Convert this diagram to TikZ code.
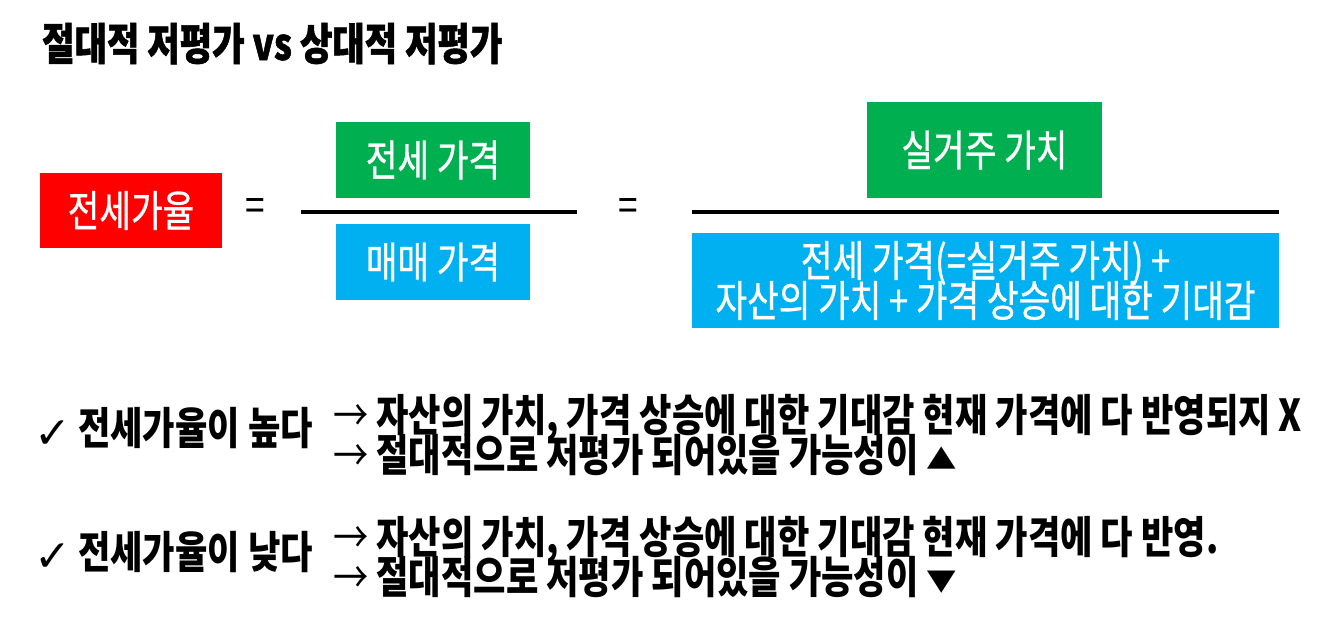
\documentclass[tikz,border=0pt]{standalone}
\usepackage{fontspec}
\setmainfont{Noto Sans CJK KR}[FakeStretch=0.8]
\newfontfamily\boxfont{Noto Sans CJK KR}[FakeStretch=0.8, FakeBold=0.8]
\newfontfamily\titlefont{Noto Sans CJK KR}[FakeStretch=0.8, BoldFeatures={FakeBold=1.2}]
\newfontfamily\symfont{DejaVu Sans}
\usetikzlibrary{positioning}

\definecolor{ratiored}{HTML}{FF0000}
\definecolor{numgreen}{HTML}{00B050}
\definecolor{denblue}{HTML}{00B0F0}

\newcommand{\goes}{{\mdseries →}}
\newcommand{\triup}{{\fontsize{38}{38}\selectfont\raisebox{2pt}{\scalebox{1}[0.72]{▲}}}}
\newcommand{\tridown}{{\fontsize{38}{38}\selectfont\raisebox{2pt}{\scalebox{1}[0.72]{▼}}}}
\newcommand{\tightlines}{\lineskiplimit=-40pt\relax}

\begin{document}
\begin{tikzpicture}[x=1pt, y=-1pt,
  colbox/.style={inner sep=0pt, text=white, align=center, font=\boxfont\fontsize{43}{40}\selectfont\tightlines},
  fracbar/.style={line width=4pt},
  eqsign/.style={inner sep=0pt, font=\fontsize{44}{40}\selectfont},
  tick/.style={inner sep=0pt, font=\symfont\mdseries\fontsize{44}{44}\selectfont},
  note/.style={inner sep=0pt, align=left, font=\bfseries\fontsize{44}{40}\selectfont\tightlines}
]
\useasboundingbox (0,0) rectangle (1321,640);

% Title
\node[anchor=base west, inner sep=0pt, font=\titlefont\bfseries\fontsize{44}{40}\selectfont] (title) at (42,60) {절대적 저평가 vs 상대적 저평가};

% Ratio = price / price
\node[colbox, fill=ratiored, minimum width=182pt, minimum height=75pt] (ratio) at (131,210.5) {전세가율};
\node[eqsign] (eqA) at (255,210) {=};
\node[colbox, fill=numgreen, minimum width=194pt, minimum height=76pt] (jeonse) at (433,160) {전세 가격};
\node[colbox, fill=denblue, minimum width=194pt, minimum height=76pt] (maemae) at (433,262) {매매 가격};
\coordinate (barAl) at (301,212);
\coordinate (barAr) at (577,212);
\draw[fracbar] (barAl) -- (barAr);

% = value / value
\node[eqsign] (eqB) at (628,210) {=};
\node[colbox, fill=numgreen, minimum width=235pt, minimum height=96pt] (silgeoju) at (984.5,150) {실거주 가치};
\node[colbox, fill=denblue, minimum width=587pt, minimum height=95pt] (maemaeB) at (985.5,280.5) {전세 가격(=실거주 가치) +\\자산의 가치 + 가격 상승에 대한 기대감};
\coordinate (barBl) at (692,212);
\coordinate (barBr) at (1279,212);
\draw[fracbar] (barBl) -- (barBr);

% High ratio
\node[tick] (tickA) at (53,435) {✓};
\node[note, anchor=base west] (high) at (78,444) {전세가율이 높다};
\node[note, anchor=north west] (highA) at (333,394) {\goes\ 자산의 가치, 가격 상승에 대한 기대감 현재 가격에 다 반영되지 X\\
  \goes\ 절대적으로 저평가 되어있을 가능성이 \triup};

% Low ratio
\node[tick] (tickB) at (53,558) {✓};
\node[note, anchor=base west] (low) at (78,568) {전세가율이 낮다};
\node[note, anchor=north west] (lowA) at (333,516) {\goes\ 자산의 가치, 가격 상승에 대한 기대감 현재 가격에 다 반영.\\
  \goes\ 절대적으로 저평가 되어있을 가능성이 \tridown};

\end{tikzpicture}
\end{document}
